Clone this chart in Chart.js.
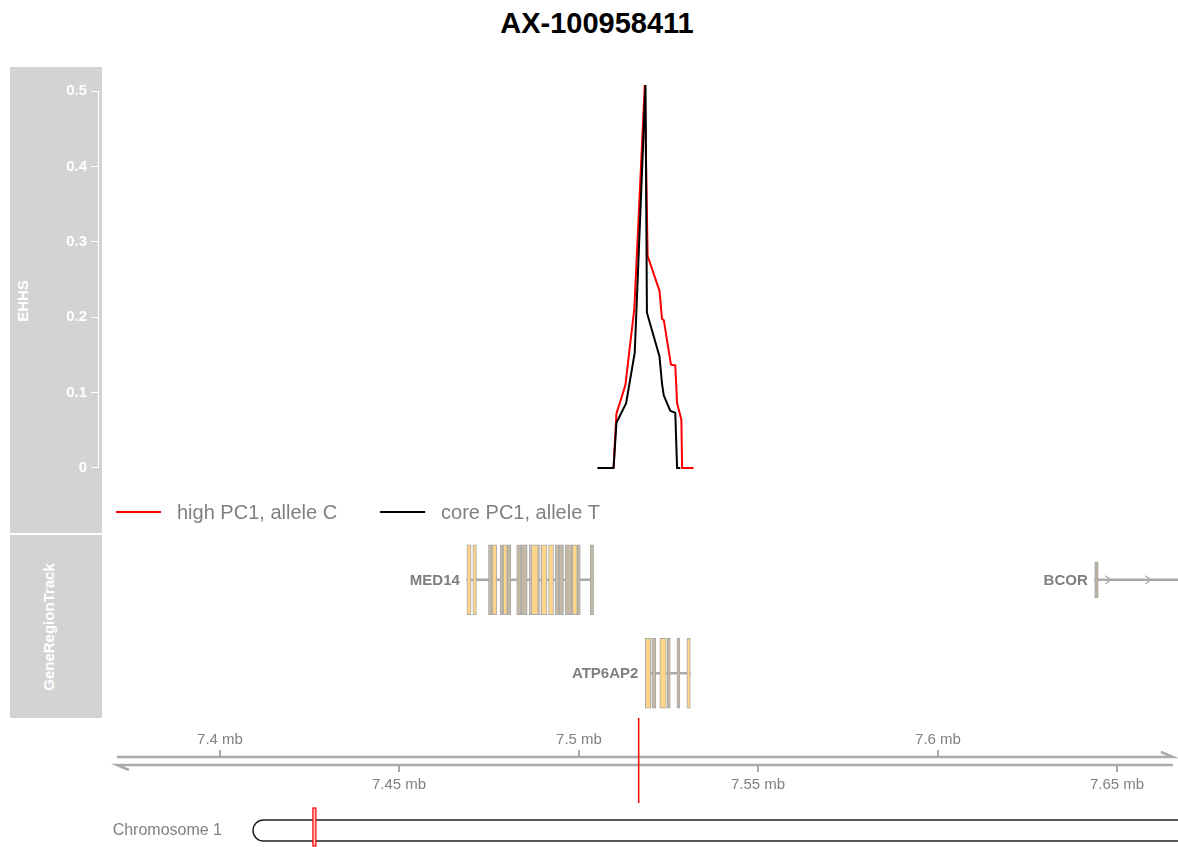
<!DOCTYPE html>
<html>
<head>
<meta charset="utf-8">
<title>AX-100958411</title>
<script src="https://cdn.jsdelivr.net/npm/chart.js@4.4.1/dist/chart.umd.min.js"></script>
<style>
  body { margin: 0; background: #fff; overflow: hidden; font-family: "Liberation Sans", Arial, sans-serif; }
  #page { position: relative; width: 1178px; height: 847px; overflow: hidden; }
  #title { position: absolute; left: 0; top: 7px; width: 1194px; line-height: 32px; text-align: center; font-weight: bold; font-size: 29px; color: #000; }
  .panel { position: absolute; left: 10px; width: 92px; background: #d3d3d3; }
  .panel span { position: absolute; color: #fff; font-weight: bold; font-size: 15px; white-space: nowrap; transform: translate(-50%, -50%) rotate(-90deg); }
  canvas { position: absolute; }
</style>
</head>
<body>
<div id="page">
  <div id="title">AX-100958411</div>
  <div class="panel" style="top:67px;height:466px"><span style="left:12px;top:234px">EHHS</span></div>
  <div class="panel" style="top:535px;height:183px"><span style="left:38px;top:92px">GeneRegionTrack</span></div>
  <canvas id="ehhs" width="1168" height="466" style="left:10px;top:67px"></canvas>
  <canvas id="genes" width="1168" height="187" style="left:10px;top:533px"></canvas>
  <canvas id="axis" width="1168" height="92" style="left:10px;top:718px"></canvas>
  <canvas id="chrom" width="1200" height="42" style="left:0;top:805px"></canvas>
</div>
<script>
Chart.defaults.font.family = '"Liberation Sans", Arial, sans-serif';

// shown window on the chromosome, in mb
const viewStart = 7.3663;
const viewEnd = 7.6670;
const snpPos = 7.5167;

// EHHS curves
const highLabel = 'high PC1, allele C';
const highPos  = [7.5097, 7.5105, 7.5130, 7.5155, 7.5184, 7.5192, 7.5225, 7.5232, 7.5237, 7.5257, 7.5269, 7.5274, 7.5286, 7.5288, 7.5320];
const highEhhs = [0, 0.072, 0.110, 0.212, 0.508, 0.281, 0.235, 0.198, 0.196, 0.137, 0.136, 0.086, 0.064, 0, 0];
const coreLabel = 'core PC1, allele T';
const corePos  = [7.5052, 7.5097, 7.5105, 7.5132, 7.5156, 7.5186, 7.5190, 7.5225, 7.5232, 7.5237, 7.5255, 7.5269, 7.5274, 7.5283];
const coreEhhs = [0, 0, 0.060, 0.086, 0.153, 0.508, 0.206, 0.148, 0.112, 0.096, 0.076, 0.073, 0, 0];
const ehhsTicks = [0, 0.1, 0.2, 0.3, 0.4, 0.5];

// gene models
const geneNames = ['MED14', 'ATP6AP2', 'BCOR'];
const geneRow   = [1, 2, 1];
const geneStart = [7.46882, 7.51855, 7.64379];
const geneEnd   = [7.50413, 7.53110, 7.70000];
const med14Coding = [[7.46882, 7.47001], [7.47049, 7.47149], [7.47587, 7.47718], [7.47894, 7.48006],
                     [7.48675, 7.48870], [7.48954, 7.49113], [7.49158, 7.49297], [7.49819, 7.49958]];
const med14Other  = [[7.47484, 7.47587], [7.47810, 7.47894], [7.48006, 7.48109], [7.48271, 7.48396],
                     [7.48396, 7.48563], [7.48619, 7.48675], [7.48870, 7.48926], [7.49344, 7.49456],
                     [7.49456, 7.49576], [7.49623, 7.49819], [7.49958, 7.50042], [7.50321, 7.50413]];
const atpCoding = [[7.51855, 7.52008], [7.52259, 7.52441], [7.53013, 7.53110]];
const atpOther  = [[7.52036, 7.52148], [7.52469, 7.52552], [7.52734, 7.52817]];
const bcorUtr   = [[7.64379, 7.64477]];

// genome axis ticks
const axisTicksUpper = [7.4, 7.5, 7.6];
const axisTicksLower = [7.45, 7.55, 7.65];

// ideogram
const chrName = 'Chromosome 1';
const chrLength = 115.0;

const GREY = '#808080';
const EXON_LINE = '#a9a9a9';

function points(xs, ys) {
    return xs.map((x, i) => ({ x: x, y: ys[i] }));
}

function rows(list, row) {
    return list.map(e => ({ x: e, y: row }));
}

// ---------- EHHS track ----------
const ehhsAxisLine = {
    id: 'ehhsAxisLine',
    afterDraw(chart) {
        const y = chart.scales.y;
        const ctx = chart.ctx;
        const x = chart.chartArea.left - 0.5;
        ctx.save();
        ctx.strokeStyle = '#fff';
        ctx.lineWidth = 1;
        ctx.beginPath();
        ctx.moveTo(x, y.getPixelForValue(ehhsTicks[0]));
        ctx.lineTo(x, y.getPixelForValue(ehhsTicks[ehhsTicks.length - 1]));
        ctx.stroke();
        ctx.restore();
    }
};

const ehhsLegend = {
    id: 'ehhsLegend',
    afterDraw(chart) {
        const ctx = chart.ctx;
        let x = chart.chartArea.left + 17;
        const y = 445;
        ctx.save();
        ctx.font = '20px "Liberation Sans"';
        ctx.textBaseline = 'middle';
        chart.data.datasets.forEach(ds => {
            ctx.strokeStyle = ds.borderColor;
            ctx.lineWidth = 2;
            ctx.beginPath();
            ctx.moveTo(x, y);
            ctx.lineTo(x + 45, y);
            ctx.stroke();
            ctx.fillStyle = GREY;
            ctx.fillText(ds.label, x + 61, y + 1);
            x += 61 + ctx.measureText(ds.label).width + 43;
        });
        ctx.restore();
    }
};

new Chart(document.getElementById('ehhs'), {
    type: 'line',
    data: {
        datasets: [
            { label: highLabel, data: points(highPos, highEhhs), borderColor: '#ff0000', order: 1 },
            { label: coreLabel, data: points(corePos, coreEhhs), borderColor: '#000000', order: 0 }
        ]
    },
    options: {
        responsive: false,
        animation: false,
        layout: { padding: { top: 14, bottom: 55, left: 0, right: 0 } },
        elements: {
            line: { borderWidth: 2, tension: 0 },
            point: { radius: 0 }
        },
        scales: {
            x: { type: 'linear', min: viewStart, max: viewEnd, display: false },
            y: {
                min: -0.0133,
                max: 0.5133,
                afterFit: s => { s.width = 89; },
                afterBuildTicks: s => { s.ticks = ehhsTicks.map(v => ({ value: v })); },
                ticks: {
                    color: '#fff',
                    padding: 4,
                    font: { weight: 'bold', size: 15 },
                    callback: v => String(v)
                },
                grid: { drawOnChartArea: false, color: '#fff', tickLength: 8 },
                border: { display: false }
            }
        },
        plugins: { legend: { display: false }, tooltip: { enabled: false } }
    },
    plugins: [ehhsAxisLine, ehhsLegend]
});

// ---------- gene region track ----------
const geneExons = [
    med14Coding.concat(med14Other),
    atpCoding.concat(atpOther),
    bcorUtr
];

const geneDecor = {
    id: 'geneDecor',
    afterDatasetsDraw(chart) {
        const { ctx, chartArea, scales: { x, y } } = chart;
        ctx.save();
        geneNames.forEach((name, g) => {
            const cy = y.getPixelForValue(geneRow[g]);
            // strand arrows on introns long enough to hold them
            const ex = geneExons[g].slice().sort((a, b) => a[0] - b[0]);
            ctx.strokeStyle = EXON_LINE;
            ctx.lineWidth = 1.2;
            ex.forEach((e, i) => {
                const next = i + 1 < ex.length ? ex[i + 1][0] : geneEnd[g];
                const pa = x.getPixelForValue(e[1]);
                const pb = Math.min(x.getPixelForValue(next), chartArea.right);
                if (pb - pa < 30) return;
                for (let px = pa + 10; px < pb - 4; px += 40) {
                    ctx.beginPath();
                    ctx.moveTo(px - 3, cy - 4);
                    ctx.lineTo(px + 3, cy);
                    ctx.lineTo(px - 3, cy + 4);
                    ctx.stroke();
                }
            });
            ctx.fillStyle = '#7f7f7f';
            ctx.font = 'bold 15px "Liberation Sans"';
            ctx.textAlign = 'right';
            ctx.textBaseline = 'middle';
            ctx.fillText(name, x.getPixelForValue(geneStart[g]) - 7, cy + 1);
        });
        ctx.restore();
    }
};

new Chart(document.getElementById('genes'), {
    type: 'bar',
    data: {
        datasets: [
            {
                label: 'introns',
                data: geneNames.map((n, g) => ({ x: [geneStart[g], geneEnd[g]], y: geneRow[g] })),
                backgroundColor: EXON_LINE,
                borderWidth: 0,
                barThickness: 2,
                order: 10
            },
            {
                label: 'utr',
                data: rows(bcorUtr, geneRow[2]),
                backgroundColor: '#b9ae9c',
                borderColor: EXON_LINE,
                borderWidth: 1,
                barThickness: 36,
                order: 2
            },
            {
                label: 'exons',
                data: rows(med14Other, geneRow[0]).concat(rows(atpOther, geneRow[1])),
                backgroundColor: '#c4b9a5',
                borderColor: EXON_LINE,
                borderWidth: 1,
                barThickness: 70,
                order: 1
            },
            {
                label: 'coding',
                data: rows(med14Coding, geneRow[0]).concat(rows(atpCoding, geneRow[1])),
                backgroundColor: '#ffd58a',
                borderColor: EXON_LINE,
                borderWidth: 1,
                barThickness: 70,
                order: 0
            }
        ]
    },
    options: {
        responsive: false,
        animation: false,
        indexAxis: 'y',
        layout: { padding: { left: 89, right: 0, top: 0, bottom: 0 } },
        datasets: { bar: { grouped: false, borderSkipped: false } },
        scales: {
            x: { type: 'linear', min: viewStart, max: viewEnd, display: false },
            y: { type: 'linear', min: 0.5, max: 2.5, reverse: true, offset: false, display: false }
        },
        plugins: { legend: { display: false }, tooltip: { enabled: false } }
    },
    plugins: [geneDecor]
});

// ---------- genome axis ----------
const genomeAxis = {
    id: 'genomeAxis',
    afterDraw(chart) {
        const { ctx, chartArea, scales: { x } } = chart;
        const left = chartArea.left + 18;
        const right = chartArea.right - 5;
        const top = 39, bottom = 47;
        ctx.save();
        ctx.strokeStyle = '#aaaaaa';
        ctx.lineWidth = 2.5;
        ctx.beginPath();
        ctx.moveTo(left, top);
        ctx.lineTo(right, top);
        ctx.lineTo(right - 12, top - 5);
        ctx.moveTo(right, bottom);
        ctx.lineTo(left, bottom);
        ctx.lineTo(left + 12, bottom + 5);
        ctx.stroke();

        ctx.lineWidth = 2;
        ctx.fillStyle = GREY;
        ctx.font = '15px "Liberation Sans"';
        ctx.textAlign = 'center';
        ctx.textBaseline = 'middle';
        axisTicksUpper.forEach(v => {
            const px = Math.round(x.getPixelForValue(v));
            ctx.beginPath();
            ctx.moveTo(px, top);
            ctx.lineTo(px, top - 7);
            ctx.stroke();
            ctx.fillText(v + ' mb', px, 22);
        });
        axisTicksLower.forEach(v => {
            const px = Math.round(x.getPixelForValue(v));
            ctx.beginPath();
            ctx.moveTo(px, bottom);
            ctx.lineTo(px, bottom + 7);
            ctx.stroke();
            ctx.fillText(v + ' mb', px, 67);
        });

        // marker position
        const sx = x.getPixelForValue(snpPos);
        ctx.strokeStyle = '#ff0000';
        ctx.lineWidth = 1.5;
        ctx.beginPath();
        ctx.moveTo(sx, 0);
        ctx.lineTo(sx, 85);
        ctx.stroke();
        ctx.restore();
    }
};

new Chart(document.getElementById('axis'), {
    type: 'line',
    data: { datasets: [] },
    options: {
        responsive: false,
        animation: false,
        layout: { padding: { left: 89, right: 0, top: 0, bottom: 0 } },
        scales: {
            x: { type: 'linear', min: viewStart, max: viewEnd, display: false },
            y: { display: false }
        },
        plugins: { legend: { display: false }, tooltip: { enabled: false } }
    },
    plugins: [genomeAxis]
});

// ---------- chromosome ideogram ----------
const ideogram = {
    id: 'ideogram',
    afterDraw(chart) {
        const { ctx, scales: { x } } = chart;
        const x0 = x.getPixelForValue(0);
        const x1 = x.getPixelForValue(chrLength);
        const top = 15, bottom = 36;
        ctx.save();
        ctx.fillStyle = GREY;
        ctx.font = '16px "Liberation Sans"';
        ctx.textAlign = 'right';
        ctx.textBaseline = 'middle';
        ctx.fillText(chrName, x0 - 31, (top + bottom) / 2);

        ctx.beginPath();
        ctx.roundRect(x0, top, x1 - x0, bottom - top, (bottom - top) / 2);
        ctx.fillStyle = '#fff';
        ctx.fill();
        ctx.strokeStyle = '#222';
        ctx.lineWidth = 1.5;
        ctx.stroke();

        const ms = x.getPixelForValue(viewStart);
        const me = Math.max(x.getPixelForValue(viewEnd), ms + 3);
        ctx.fillStyle = '#ffc4c4';
        ctx.fillRect(ms, 3, me - ms, 38);
        ctx.strokeStyle = '#ff0000';
        ctx.lineWidth = 1.2;
        ctx.strokeRect(ms, 3, me - ms, 38);
        ctx.restore();
    }
};

new Chart(document.getElementById('chrom'), {
    type: 'line',
    data: { datasets: [] },
    options: {
        responsive: false,
        animation: false,
        layout: { padding: { left: 253, right: 12, top: 0, bottom: 0 } },
        scales: {
            x: { type: 'linear', min: 0, max: chrLength, display: false },
            y: { display: false }
        },
        plugins: { legend: { display: false }, tooltip: { enabled: false } }
    },
    plugins: [ideogram]
});
</script>
</body>
</html>
